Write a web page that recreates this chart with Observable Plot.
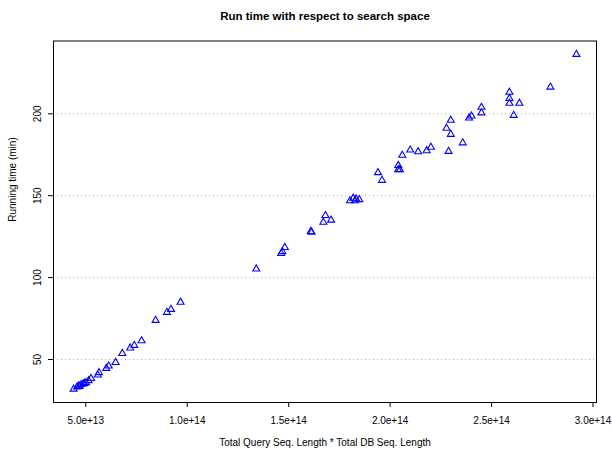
<!DOCTYPE html>
<html>
<head>
<meta charset="utf-8">
<script src="https://cdn.jsdelivr.net/npm/d3@7"></script>
<script src="https://cdn.jsdelivr.net/npm/@observablehq/plot@0.6"></script>
<style>
  html, body { margin: 0; padding: 0; background: #fff; }
  #chart { width: 612px; height: 449px; }
</style>
</head>
<body>
<div id="chart"></div>
<script>
// Search space (Total Query Seq. Length * Total DB Seq. Length)
const searchSpace = [
  4.40e13, 4.57e13, 4.65e13, 4.70e13, 4.77e13, 4.87e13, 4.93e13, 5.01e13, 5.14e13, 5.26e13,
  5.59e13, 5.65e13, 6.01e13, 6.13e13, 6.47e13, 6.80e13, 7.19e13, 7.39e13, 7.75e13, 8.44e13,
  9.00e13, 9.20e13, 9.67e13,
  13.40e13, 14.63e13, 14.69e13, 14.81e13, 16.09e13, 16.13e13, 16.71e13, 16.81e13, 17.09e13,
  18.02e13, 18.18e13, 18.27e13, 18.32e13, 18.48e13,
  19.40e13, 19.60e13, 20.40e13, 20.40e13, 20.48e13, 20.60e13, 20.99e13, 21.38e13, 21.80e13,
  22.01e13, 22.88e13, 22.78e13, 22.99e13, 22.99e13, 23.58e13, 23.89e13, 24.01e13, 24.50e13,
  24.50e13, 25.88e13, 25.88e13, 25.88e13, 26.09e13, 26.37e13, 27.90e13, 29.18e13
];
// Running time (min)
const runTime = [
  31.9, 33.3, 33.9, 33.6, 34.7, 35.1, 35.4, 35.9, 37.1, 38.4,
  40.5, 42.0, 44.6, 46.0, 48.2, 53.7, 57.0, 58.6, 61.4, 73.9,
  78.8, 80.6, 85.0,
  105.3, 114.7, 115.9, 118.4, 128.2, 127.7, 133.8, 137.9, 135.1,
  146.9, 148.5, 146.9, 148.0, 147.6,
  164.1, 159.4, 168.5, 165.9, 165.9, 174.7, 177.9, 176.9, 177.5,
  179.6, 177.1, 191.2, 196.1, 187.5, 182.3, 197.5, 198.7, 204.0,
  200.6, 213.2, 209.4, 206.5, 199.1, 206.5, 216.3, 236.3
];
const xTicks = [5e13, 1e14, 1.5e14, 2e14, 2.5e14, 3e14];
const yTicks = [50, 100, 150, 200];
const title = "Run time with respect to search space";
const xLabel = "Total Query Seq. Length * Total DB Seq. Length";
const yLabel = "Running time (min)";

const data = searchSpace.map((s, i) => ({s, t: runTime[i]}));

// R-style 4% padding of the data range
function pad(ext) { const d = ext[1] - ext[0]; return [ext[0] - 0.04 * d, ext[1] + 0.04 * d]; }
const xDomain = pad(d3.extent(searchSpace));
const yDomain = pad(d3.extent(runTime));

const font = "'Liberation Sans', Arial, Helvetica, sans-serif";

const chart = Plot.plot({
  width: 612,
  height: 449,
  marginLeft: 53,
  marginRight: 16,
  marginTop: 40.5,
  marginBottom: 47,
  style: { fontFamily: font, fontSize: "10px", color: "#000", background: "#fff" },
  x: { domain: xDomain },
  y: { domain: yDomain },
  marks: [
    Plot.gridY(yTicks, { stroke: "#b4b4b4", strokeOpacity: 1, strokeDasharray: "1,3" }),
    Plot.frame({ stroke: "#000", strokeWidth: 1 }),
    Plot.axisX({
      ticks: xTicks, tickSize: 5, tickPadding: 9, label: null,
      tickFormat: d => d.toExponential(1), stroke: "#000"
    }),
    Plot.axisY({ ticks: yTicks, tickSize: 5, label: null, tickFormat: () => "", stroke: "#000" }),
    Plot.text(yTicks, {
      y: d => d, text: d => String(d), frameAnchor: "left", dx: -16,
      rotate: -90, textAnchor: "middle", lineAnchor: "middle", fill: "#000"
    }),
    Plot.dot(data, {
      x: "s", y: "t", symbol: "triangle", r: 2.6,
      stroke: "#0000ff", strokeWidth: 1.1, fill: "none"
    }),
    Plot.text([title], {
      frameAnchor: "top", dy: -25, lineAnchor: "middle",
      fontWeight: "bold", fontSize: 11.5, fill: "#000"
    }),
    Plot.text([xLabel], { frameAnchor: "bottom", dy: 40, lineAnchor: "middle", fill: "#000" }),
    Plot.text([yLabel], { frameAnchor: "left", dx: -41, rotate: -90, lineAnchor: "middle", fill: "#000" })
  ]
});
document.getElementById("chart").appendChild(chart);
</script>
</body>
</html>
